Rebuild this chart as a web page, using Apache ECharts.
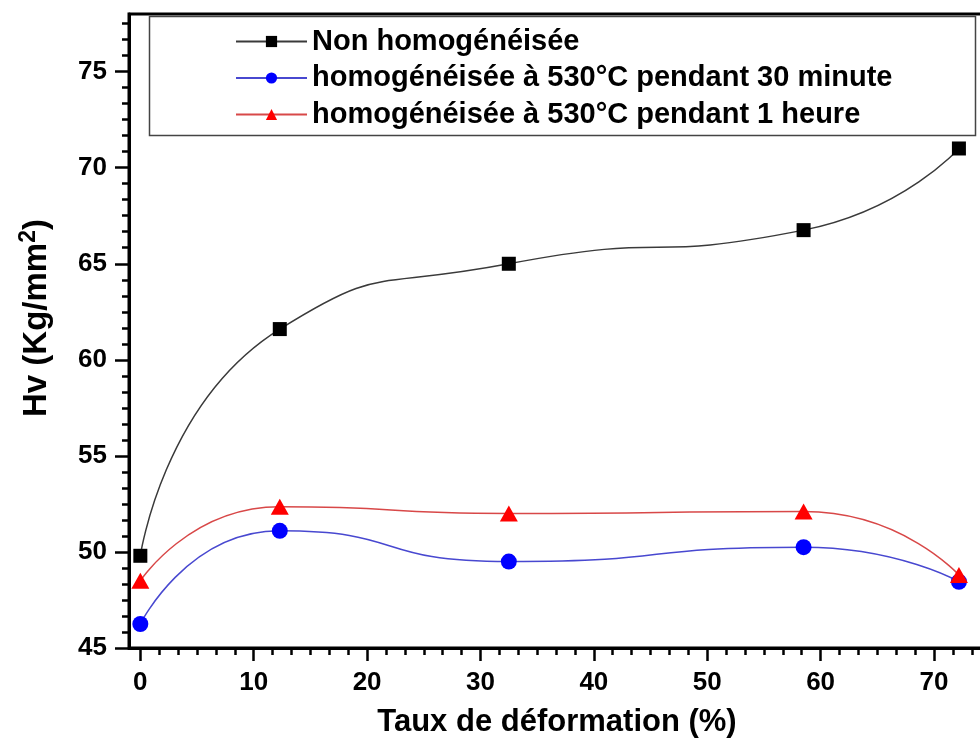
<!DOCTYPE html>
<html>
<head>
<meta charset="utf-8">
<script src="https://cdn.jsdelivr.net/npm/echarts@6/dist/echarts.min.js"></script>
<style>
  html, body { margin: 0; padding: 0; background: #fff; }
  #chart { width: 980px; height: 742px; }
</style>
</head>
<body>
<div id="chart"></div>
<script>
// strain rate (%) at each measure
const xValues = [0, 12.3, 32.5, 58.5, 72.2];
// Hv values per treatment
const nonHomog = [49.8, 61.6, 65.0, 66.75, 71.0];
const homog30min = [46.25, 51.1, 49.5, 50.25, 48.45];
const homog1h = [48.5, 52.35, 52.0, 52.1, 48.8];

const seriesNames = [
  'Non homogénéisée',
  'homogénéisée à 530°C pendant 30 minute',
  'homogénéisée à 530°C pendant 1 heure',
];

const xTicks = [0, 10, 20, 30, 40, 50, 60, 70];
const yTicks = [45, 50, 55, 60, 65, 70, 75];

const X_MIN = -1, X_MAX = 74.5;
const Y_MIN = 45, Y_MAX = 78;

// minor ticks: 6 steps per major step
const xMinor = [];
for (let i = 0; i * 10 / 6 <= X_MAX; i++) {
  if (i % 6 !== 0) xMinor.push(i * 10 / 6);
}
const yMinor = [];
for (let i = 0; Y_MIN + i * 5 / 6 <= Y_MAX; i++) {
  if (i % 6 !== 0) yMinor.push(Y_MIN + i * 5 / 6);
}

const font = '"Liberation Sans", Arial, sans-serif';

const pairs = (ys) => xValues.map((x, i) => [x, ys[i]]);

const chart = echarts.init(document.getElementById('chart'), null, { renderer: 'canvas' });

const option = {
  backgroundColor: '#fff',
  animation: false,
  grid: {
    left: 129, right: -5, top: 14, bottom: 94,
    show: true, borderColor: '#000', borderWidth: 3,
    backgroundColor: 'transparent',
    outerBoundsMode: 'none',
  },
  legend: {
    orient: 'vertical',
    left: 235,
    top: 27,
    padding: 0,
    itemWidth: 71,
    itemHeight: 14,
    itemGap: 7.5,
    selectedMode: false,
    textStyle: { fontFamily: font, fontWeight: 'bold', fontSize: 29, color: '#000', lineHeight: 29 },
    data: seriesNames,
  },
  graphic: [{
    type: 'rect',
    left: 147, top: 14,
    shape: { width: 826, height: 119 },
    style: { fill: 'none', stroke: '#444', lineWidth: 1.5 },
    z: 5,
  }],
  xAxis: [{
    type: 'value',
    min: X_MIN, max: X_MAX,
    name: 'Taux de déformation (%)',
    nameLocation: 'middle',
    nameGap: 59,
    nameTextStyle: { fontFamily: font, fontWeight: 'bold', fontSize: 31, color: '#000' },
    axisLine: { show: true, onZero: false, lineStyle: { color: '#000', width: 3 } },
    axisTick: { show: true, customValues: xTicks, length: 13, lineStyle: { color: '#000', width: 2.5 } },
    axisLabel: { customValues: xTicks, margin: 22, fontFamily: font, fontWeight: 'bold', fontSize: 26, color: '#000' },
    splitLine: { show: false },
  }, {
    type: 'value',
    position: 'bottom',
    min: X_MIN, max: X_MAX,
    axisLine: { show: false, onZero: false },
    axisTick: { show: true, customValues: xMinor, length: 7, lineStyle: { color: '#000', width: 2.5 } },
    axisLabel: { show: false },
    splitLine: { show: false },
  }],
  yAxis: [{
    type: 'value',
    min: Y_MIN, max: Y_MAX,
    name: 'Hv (Kg/mm{sup|2})',
    nameLocation: 'middle',
    nameGap: 73,
    nameRotate: 90,
    nameTextStyle: {
      fontFamily: font, fontWeight: 'bold', fontSize: 33, color: '#000',
      padding: [0, 0, 0, 26],
      rich: { sup: { fontFamily: font, fontWeight: 'bold', fontSize: 23, verticalAlign: 'top', padding: [0, 0, 16, 0] } },
    },
    axisLine: { show: true, onZero: false, lineStyle: { color: '#000', width: 3 } },
    axisTick: { show: true, customValues: yTicks, length: 14, lineStyle: { color: '#000', width: 2.5 } },
    axisLabel: { customValues: yTicks, margin: 22, fontFamily: font, fontWeight: 'bold', fontSize: 26, color: '#000' },
    splitLine: { show: false },
  }, {
    type: 'value',
    position: 'left',
    min: Y_MIN, max: Y_MAX,
    axisLine: { show: false, onZero: false },
    axisTick: { show: true, customValues: yMinor, length: 7, lineStyle: { color: '#000', width: 2.5 } },
    axisLabel: { show: false },
    splitLine: { show: false },
  }],
  series: [{
    name: seriesNames[0],
    type: 'line',
    smooth: 0.6,
    data: pairs(nonHomog),
    symbol: 'rect',
    symbolSize: 14,
    lineStyle: { color: '#3a3a3a', width: 1.5 },
    itemStyle: { color: '#000' },
  }, {
    name: seriesNames[1],
    type: 'line',
    smooth: 0.6,
    data: pairs(homog30min),
    symbol: 'circle',
    symbolSize: 16,
    lineStyle: { color: '#4848d0', width: 1.5 },
    itemStyle: { color: '#0000ff' },
  }, {
    name: seriesNames[2],
    type: 'line',
    smooth: 0.6,
    data: pairs(homog1h),
    symbol: 'triangle',
    symbolSize: [18, 16],
    lineStyle: { color: '#d84848', width: 1.5 },
    itemStyle: { color: '#ff0000' },
  }],
};

chart.setOption(option);
</script>
</body>
</html>
